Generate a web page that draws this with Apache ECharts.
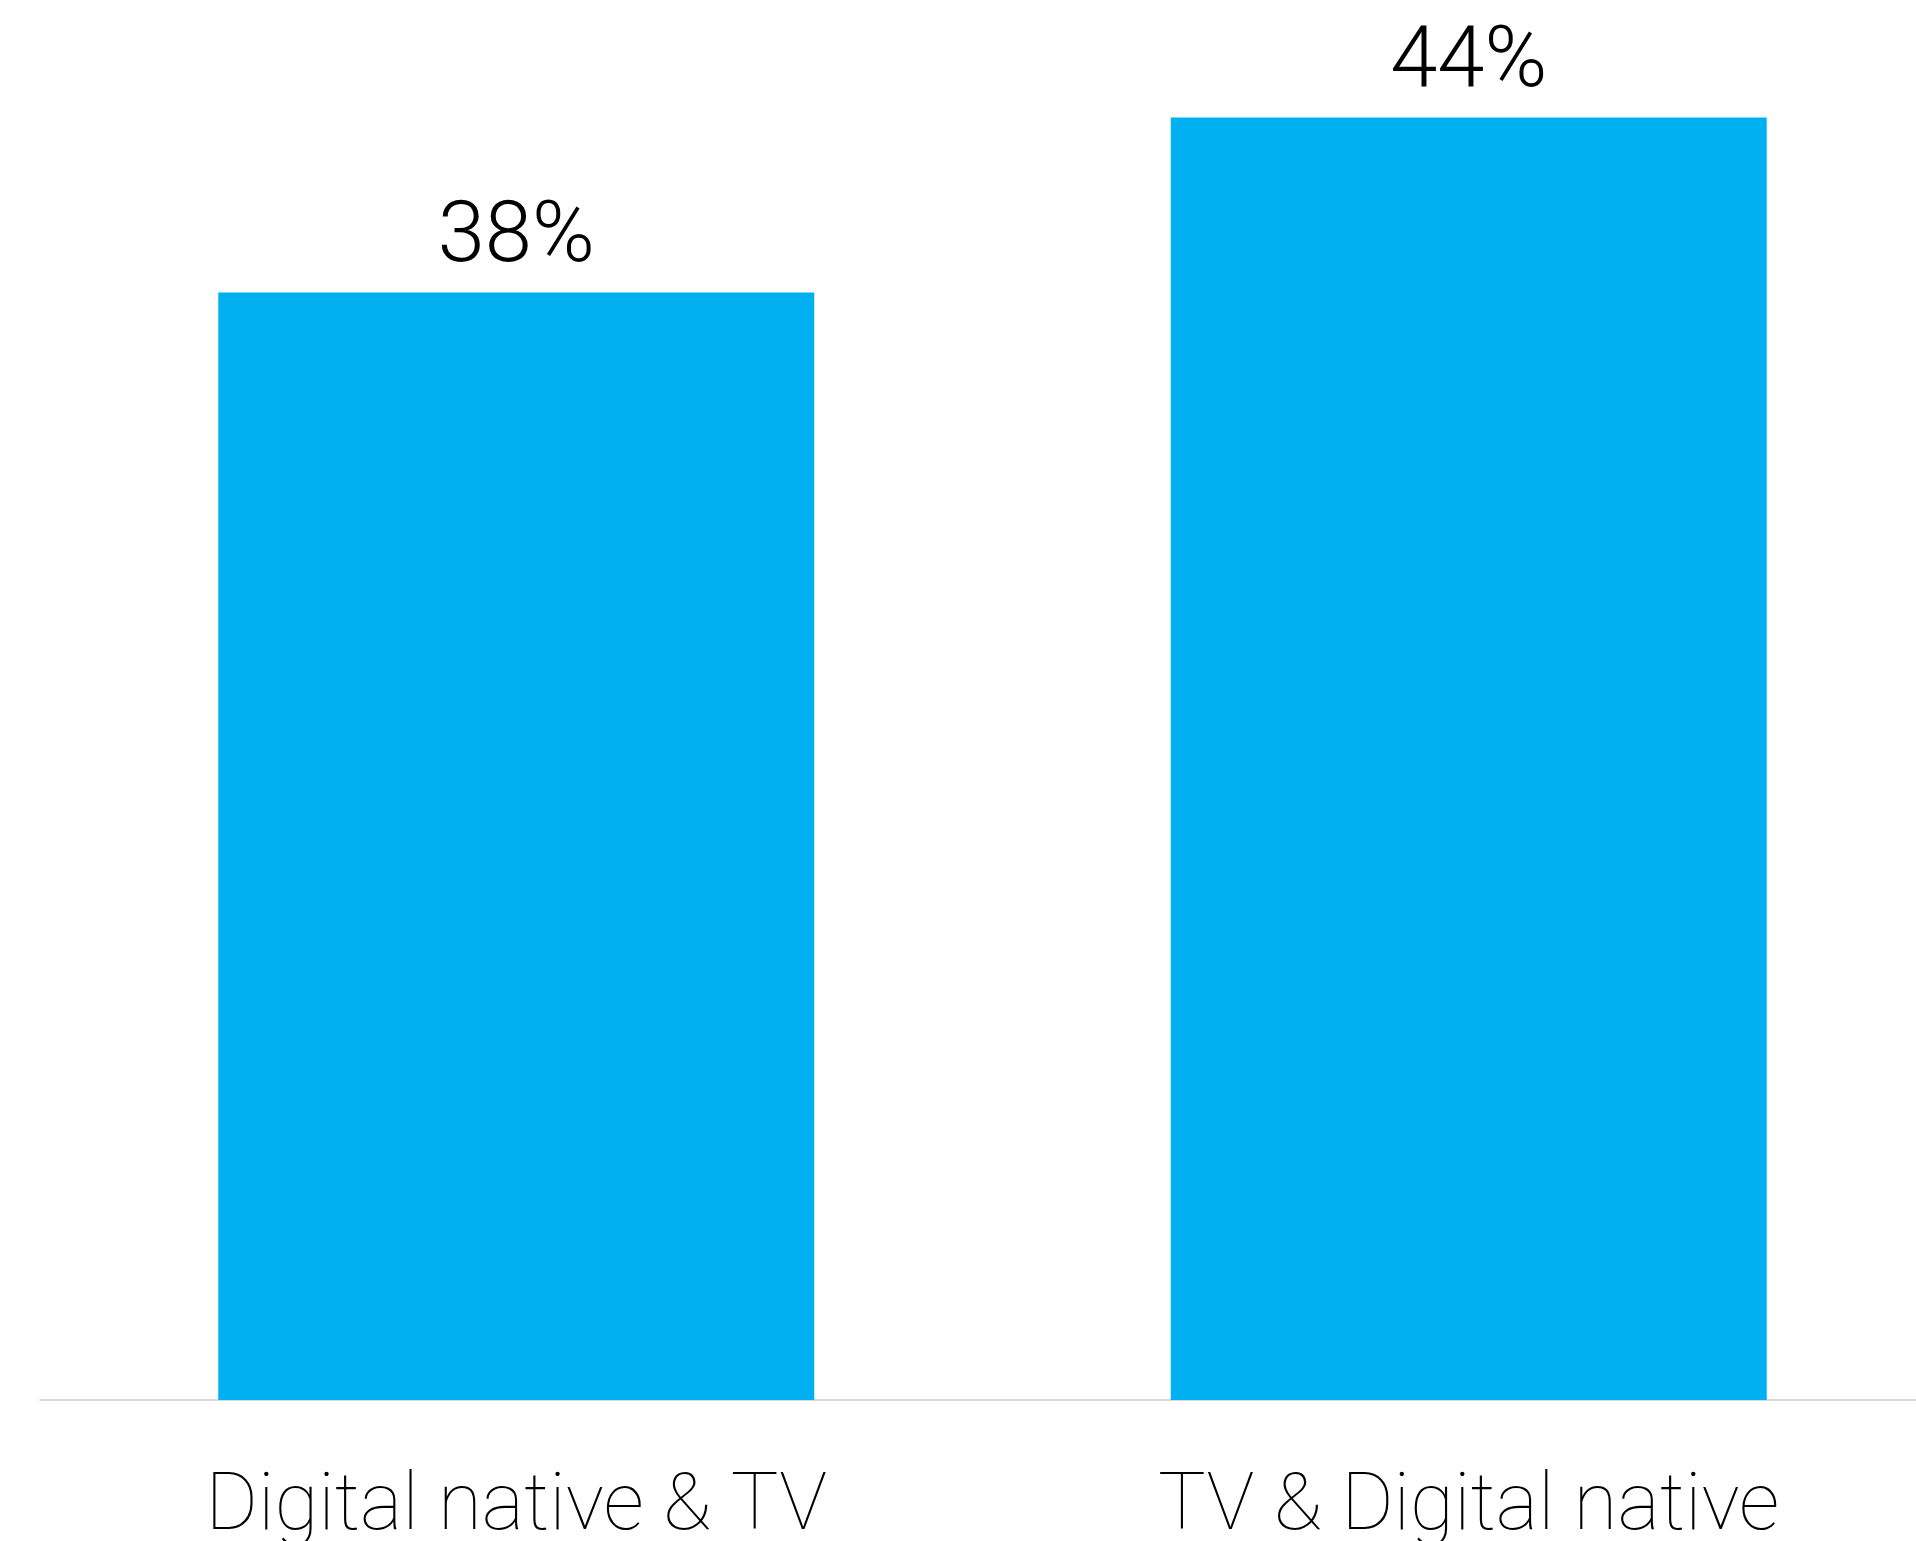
<!DOCTYPE html>
<html>
<head>
<meta charset="utf-8">
<style>
  html, body { margin: 0; padding: 0; background: #ffffff; overflow: hidden; }
  #chart { width: 1916px; height: 1541px; }
</style>
<script src="https://cdn.jsdelivr.net/npm/echarts@6/dist/echarts.min.js"></script>
</head>
<body>
<div id="chart"></div>
<script>
// Share of viewers by viewing sequence
const categories = ['Digital native & TV', 'TV & Digital native'];
const shares = [38, 44];

const chart = echarts.init(document.getElementById('chart'), null, { renderer: 'canvas' });

chart.setOption({
  backgroundColor: '#ffffff',
  animation: false,
  // the plot runs a little past the right edge of the canvas
  grid: {
    left: 40, top: 1, width: 1905, height: 1399,
    containLabel: false,
    outerBoundsMode: 'none'
  },
  xAxis: {
    type: 'category',
    data: categories,
    axisLine: { show: true, lineStyle: { color: '#d9d9d9', width: 2 } },
    axisTick: { show: false },
    axisLabel: {
      color: '#000000',
      fontFamily: 'Roboto',
      fontWeight: 100,
      fontSize: 80,
      margin: 69
    }
  },
  yAxis: {
    type: 'value',
    min: 0,
    max: 48,
    show: false,
    splitLine: { show: false }
  },
  series: [{
    type: 'bar',
    data: shares,
    barWidth: 596,
    itemStyle: { color: '#00b0f0' },
    label: {
      show: true,
      position: 'top',
      distance: 10,
      formatter: '{c}%',
      color: '#000000',
      fontFamily: 'Roboto',
      fontWeight: 300,
      fontSize: 85
    }
  }]
});
</script>
</body>
</html>
